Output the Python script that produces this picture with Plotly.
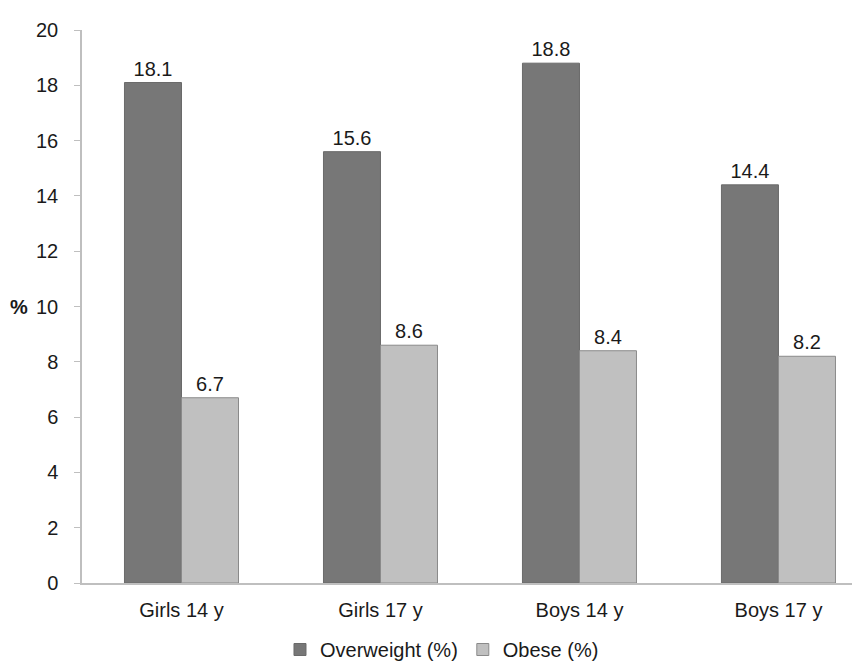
import plotly.graph_objects as go

categories = ["Girls 14 y", "Girls 17 y", "Boys 14 y", "Boys 17 y"]
overweight = [18.1, 15.6, 18.8, 14.4]
obese = [6.7, 8.6, 8.4, 8.2]
y_ticks = [0, 2, 4, 6, 8, 10, 12, 14, 16, 18, 20]

FONT = "Liberation Sans, Arial, sans-serif"
FS = 20

fig = go.Figure()
fig.add_trace(go.Bar(
    x=categories, y=overweight, name="Overweight (%)",
    marker=dict(color="#777777", line=dict(color="#6a6a6a", width=1)),
    text=[f"{v:.1f}" for v in overweight], textposition="outside",
    textfont=dict(size=FS, color="#1a1a1a", family=FONT), cliponaxis=False,
))
fig.add_trace(go.Bar(
    x=categories, y=obese, name="Obese (%)",
    marker=dict(color="#c0c0c0", line=dict(color="#8a8a8a", width=1)),
    text=[f"{v:.1f}" for v in obese], textposition="outside",
    textfont=dict(size=FS, color="#1a1a1a", family=FONT), cliponaxis=False,
))

fig.update_layout(
    width=860, height=661,
    margin=dict(l=74, r=0, t=22, b=77),
    paper_bgcolor="white", plot_bgcolor="white",
    barmode="group", bargap=0.427, bargroupgap=0,
    font=dict(family=FONT, size=FS, color="#1a1a1a"),
    showlegend=True,
    legend=dict(orientation="h", x=0.458, xanchor="center", y=-0.121, yanchor="middle",
                font=dict(size=FS), itemwidth=30, traceorder="normal"),
    xaxis=dict(range=[-0.5, 3.45], showline=True, linecolor="#bfbfbf", linewidth=1.5,
               ticks="", showgrid=False, tickfont=dict(size=FS), ticklabelstandoff=8),
    yaxis=dict(range=[0, 20], tickvals=y_ticks, showline=True, linecolor="#bfbfbf",
               linewidth=1.5, ticks="outside", ticklen=6, tickcolor="#bfbfbf",
               showgrid=False, zeroline=False, tickfont=dict(size=FS),
               ticklabelstandoff=12),
    annotations=[dict(text="<b>%</b>", xref="paper", yref="y", x=-0.08, y=10,
                      xanchor="center", yanchor="middle", showarrow=False,
                      font=dict(size=FS, color="#1a1a1a"))],
)

fig.write_html("out.html")
